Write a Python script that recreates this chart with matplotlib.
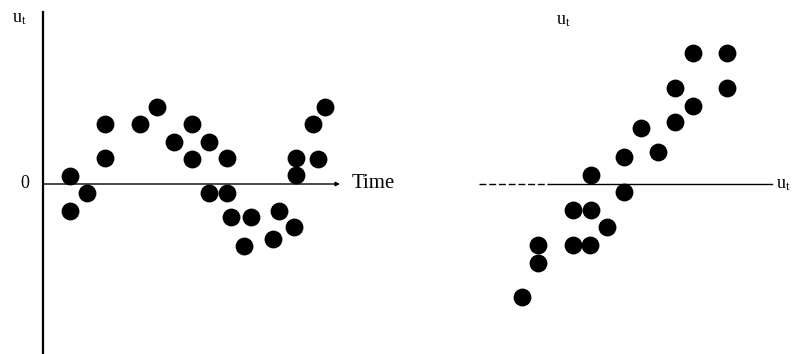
import numpy as np
import matplotlib
matplotlib.use("Agg")
import matplotlib.pyplot as plt

# left panel: time series u_t
time = [1.0, 1.0, 2.0, 3.0, 3.0, 5.0, 6.0, 7.0, 8.0, 8.0, 9.0, 9.0, 10.0, 10.0,
        10.25, 11.4, 11.0, 12.65, 13.0, 13.9, 14.0, 14.0, 14.95, 15.25, 15.65]
u_t = [0.45, -1.55, -0.5, 3.45, 1.5, 3.45, 4.45, 2.4, 3.45, 1.45, 2.4, -0.5, 1.5, -0.5,
       -1.9, -1.9, -3.55, -3.15, -1.55, -2.5, 1.5, 0.5, 3.45, 1.45, 4.45]

# right panel: u_t against the previous value
u_prev = [7.45, 9.45, 9.45, 6.45, 7.45, 6.45, 4.5, 5.45, 3.5, 1.6, 3.5, 0.6, 1.6,
          2.55, -1.45, 0.6, 1.55, -1.45, -2.35]
u_next = [7.55, 7.55, 5.5, 5.5, 4.5, 3.55, 3.2, 1.85, 1.55, 0.5, -0.45, -1.5, -1.5,
          -2.5, -3.5, -3.5, -3.5, -4.55, -6.5]

plt.rcParams["mathtext.fontset"] = "custom"
plt.rcParams["mathtext.rm"] = "Liberation Serif"
plt.rcParams["mathtext.it"] = "Liberation Serif:italic"

W, H = 793, 354
S = 17.4  # pixels per data unit
Y0 = 184  # pixel row of the zero line

fig = plt.figure(figsize=(W / 100, H / 100), dpi=100)
serif = ["Liberation Serif", "DejaVu Serif"]


def make_axes(left_px, width_px, origin_px):
    ax = fig.add_axes([left_px / W, 0, width_px / W, 1])
    ax.set_xlim((left_px - origin_px) / S, (left_px + width_px - origin_px) / S)
    ax.set_ylim(-(H - Y0) / S, Y0 / S)
    ax.axis("off")
    return ax


# ---- left panel
ax1 = make_axes(0, 400, 52.6)
vx = (43 - 52.6) / S
ax1.plot([vx, vx], [-(H - Y0) / S, (Y0 - 12) / S], color="black", lw=1.6)
ax1.annotate("", xy=((340 - 52.6) / S, 0), xytext=(vx, 0),
             arrowprops=dict(arrowstyle="-|>", color="black", lw=1.0,
                             mutation_scale=6, shrinkA=0, shrinkB=0))
ax1.scatter(time, u_t, s=165, color="black", zorder=3, linewidths=0)
ax1.text((25 - 52.6) / S, 0, "0", fontsize=13, family=serif,
         ha="center", va="center")
ax1.text((352 - 52.6) / S, 0, "Time", fontsize=15, family=serif,
         ha="left", va="center")
ax1.text((19 - 52.6) / S, (Y0 - 18) / S, r"$\mathrm{u_t}$", fontsize=13,
         ha="center", va="center")

# ---- right panel
ax2 = make_axes(400, 393, 563)
ax2.plot([(479 - 563) / S, (548 - 563) / S], [0, 0], color="black", lw=1.0,
         dashes=(5, 2))
ax2.plot([(548 - 563) / S, (772 - 563) / S], [0, 0], color="black", lw=1.0)
ax2.scatter(u_prev, u_next, s=165, color="black", zorder=3, linewidths=0)
ax2.text(0, (Y0 - 20) / S, r"$\mathrm{u_t}$", fontsize=13,
         ha="center", va="center")
ax2.text((776 - 563) / S, 0, r"$\mathrm{u_t}$", fontsize=13,
         ha="left", va="center")

fig.savefig("out.png", dpi=100)
